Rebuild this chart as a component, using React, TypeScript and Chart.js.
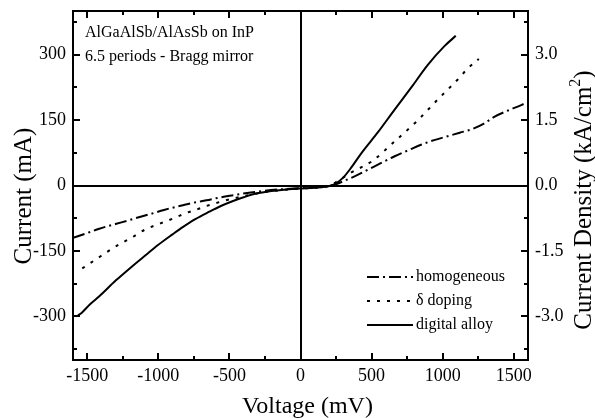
import React, { useEffect, useRef } from "react";
import { Chart, registerables } from "chart.js";

Chart.register(...registerables);

// ---------- data ----------
const homogeneousV = [-1599, -1500, -1415, -1330, -1253, -1160, -1063, -960, -852, -760, -662, -560, -450, -350, -250, -150, 0, 100, 200, 250, 310, 380, 521, 662, 760, 852, 940, 1035, 1120, 1204, 1290, 1366, 1460, 1556, 1590];
const homogeneousI = [-120, -109, -99, -91, -84, -75, -66, -56, -47, -40, -34, -27, -21, -16, -12, -9, -6, -4, -1, 3, 11, 21, 44, 67, 81, 94, 104, 113, 121, 129, 142, 158, 172, 185, 190];

const deltaV = [-1535, -1437, -1359, -1280, -1190, -1099, -1020, -944, -870, -803, -730, -662, -560, -450, -350, -250, -150, 0, 100, 200, 261, 357, 500, 662, 817, 965, 1106, 1176, 1254];
const deltaI = [-190, -169, -152, -136, -120, -102, -91, -82, -72, -63, -55, -47, -37, -28, -21, -15, -11, -7, -5, -1, 10, 30, 55, 101, 147, 197, 243, 268, 290];

const digitalV = [-1565, -1540, -1480, -1415, -1300, -1183, -1090, -1000, -900, -831, -740, -641, -560, -479, -400, -320, -250, -150, -7, 100, 204, 250, 300, 359, 430, 542, 662, 782, 894, 1014, 1092];
const digitalI = [-298, -292, -272, -254, -218, -185, -160, -136, -112, -96, -77, -60, -47, -36, -27, -19, -15, -11, -7, -5, -1, 5, 18, 42, 75, 121, 174, 226, 276, 320, 343];

const seriesLabels = ["homogeneous", "δ doping", "digital alloy"];
const seriesDashes = [[12, 4, 2, 4], [3, 7], []];

const xTickValues = [-1500, -1000, -500, 0, 500, 1000, 1500];
const xMinorValues = [-1250, -750, -250, 250, 750, 1250];
const yTickValues = [-300, -150, 0, 150, 300];
const yMinorValues = [-375, -225, -75, 75, 225, 375];
const densityTickValues = [-3, -1.5, 0, 1.5, 3];

const xTitle = "Voltage (mV)";
const yTitle = "Current (mA)";
const y2Title = "Current Density (kA/cm";
const y2TitleSup = "2";
const annotationLines = ["AlGaAlSb/AlAsSb on InP", "6.5 periods - Bragg mirror"];

const FONT = '"Liberation Serif", "Times New Roman", serif';

const pts = (xs: number[], ys: number[]) => xs.map((x, i) => ({ x, y: ys[i] }));

const decorPlugin = {
  id: "decor",
  beforeDatasetsDraw(chart: any) {
    const ctx = chart.ctx;
    const x = chart.scales.x;
    const y = chart.scales.y;
    const a = chart.chartArea;
    ctx.save();
    ctx.strokeStyle = "#000";
    ctx.lineWidth = 2;
    const y0 = Math.round(y.getPixelForValue(0));
    const x0 = Math.round(x.getPixelForValue(0));
    ctx.beginPath();
    ctx.moveTo(a.left, y0);
    ctx.lineTo(a.right, y0);
    ctx.moveTo(x0, a.top);
    ctx.lineTo(x0, a.bottom);
    ctx.stroke();
    ctx.restore();
  },
  afterDraw(chart: any) {
    const ctx = chart.ctx;
    const a = chart.chartArea;
    const xs = chart.scales.x;
    const ys = chart.scales.y;
    ctx.save();
    ctx.strokeStyle = "#000";
    ctx.fillStyle = "#000";
    ctx.lineWidth = 2;
    ctx.strokeRect(a.left, a.top, a.right - a.left, a.bottom - a.top);
    const major = 7;
    const minor = 4;
    ctx.beginPath();
    const xt = (v: number, len: number) => {
      const p = Math.round(xs.getPixelForValue(v));
      ctx.moveTo(p, a.bottom);
      ctx.lineTo(p, a.bottom - len);
      ctx.moveTo(p, a.top);
      ctx.lineTo(p, a.top + len);
    };
    const yt = (v: number, len: number) => {
      const p = Math.round(ys.getPixelForValue(v));
      ctx.moveTo(a.left, p);
      ctx.lineTo(a.left + len, p);
      ctx.moveTo(a.right, p);
      ctx.lineTo(a.right - len, p);
    };
    xTickValues.forEach((v) => xt(v, major));
    xMinorValues.forEach((v) => xt(v, minor));
    yTickValues.forEach((v) => yt(v, major));
    yMinorValues.forEach((v) => yt(v, minor));
    ctx.stroke();

    ctx.font = `24px ${FONT}`;
    ctx.textAlign = "center";
    ctx.textBaseline = "alphabetic";
    ctx.fillText(xTitle, (a.left + a.right) / 2 + 7, 413);

    ctx.save();
    ctx.translate(31, 196);
    ctx.rotate(-Math.PI / 2);
    ctx.font = `25px ${FONT}`;
    ctx.textAlign = "center";
    ctx.fillText(yTitle, 0, 0);
    ctx.restore();

    ctx.save();
    ctx.translate(591, 200);
    ctx.rotate(-Math.PI / 2);
    ctx.font = `25px ${FONT}`;
    const mainW = ctx.measureText(y2Title).width;
    ctx.font = `16px ${FONT}`;
    const supW = ctx.measureText(y2TitleSup).width;
    ctx.font = `25px ${FONT}`;
    const closeW = ctx.measureText(")").width;
    const total = mainW + supW + closeW;
    let sx = -total / 2;
    ctx.textAlign = "left";
    ctx.fillText(y2Title, sx, 0);
    sx += mainW;
    ctx.font = `16px ${FONT}`;
    ctx.fillText(y2TitleSup, sx, -11);
    sx += supW;
    ctx.font = `25px ${FONT}`;
    ctx.fillText(")", sx, 0);
    ctx.restore();

    ctx.font = `16px ${FONT}`;
    ctx.textAlign = "left";
    ctx.textBaseline = "alphabetic";
    ctx.fillText(annotationLines[0], 85, 37);
    ctx.fillText(annotationLines[1], 85, 61);

    const legendY = [277, 301, 325];
    chart.data.datasets.forEach((ds: any, i: number) => {
      const yy = legendY[i];
      ctx.beginPath();
      ctx.setLineDash(ds.borderDash || []);
      ctx.lineWidth = 2;
      ctx.moveTo(367, yy);
      ctx.lineTo(413, yy);
      ctx.stroke();
      ctx.setLineDash([]);
      ctx.font = `16px ${FONT}`;
      ctx.textBaseline = "middle";
      ctx.fillText(ds.label, 416, yy);
    });
    ctx.restore();
  },
};

const zeroPad = (s: any) => {
  s.paddingTop = 0;
  s.paddingBottom = 0;
  s.paddingLeft = 0;
  s.paddingRight = 0;
};

export default function App() {
  const ref = useRef<HTMLCanvasElement | null>(null);
  useEffect(() => {
    if (!ref.current) return;
    const chart = new Chart(ref.current, {
      type: "line",
      data: {
        datasets: [
          { label: seriesLabels[0], data: pts(homogeneousV, homogeneousI), borderDash: seriesDashes[0] },
          { label: seriesLabels[1], data: pts(deltaV, deltaI), borderDash: seriesDashes[1] },
          { label: seriesLabels[2], data: pts(digitalV, digitalI), borderDash: seriesDashes[2] },
        ].map((d) => ({
          ...d,
          borderColor: "#000",
          backgroundColor: "#000",
          borderWidth: 2,
          pointRadius: 0,
          fill: false,
          tension: 0.4,
          cubicInterpolationMode: "monotone" as const,
          yAxisID: "y",
        })),
      },
      options: {
        responsive: false,
        animation: false,
        devicePixelRatio: 1,
        layout: { padding: { top: 11, left: 0, right: 0, bottom: 0 } },
        plugins: { legend: { display: false }, tooltip: { enabled: false } },
        scales: {
          x: {
            type: "linear",
            position: "bottom",
            min: -1600,
            max: 1600,
            grid: { display: false, drawTicks: false },
            border: { display: false },
            afterBuildTicks: (s: any) => {
              s.ticks = xTickValues.map((v) => ({ value: v }));
            },
            afterFit: (s: any) => {
              s.height = 58;
              zeroPad(s);
            },
            ticks: {
              padding: 5,
              color: "#000",
              font: { family: FONT, size: 18 },
              maxRotation: 0,
              autoSkip: false,
              callback: (v: any) => String(v),
            },
          },
          y: {
            type: "linear",
            position: "left",
            min: -400,
            max: 400,
            grid: { display: false, drawTicks: false },
            border: { display: false },
            afterBuildTicks: (s: any) => {
              s.ticks = yTickValues.map((v) => ({ value: v }));
            },
            afterFit: (s: any) => {
              s.width = 73;
              zeroPad(s);
            },
            ticks: {
              padding: 7,
              color: "#000",
              font: { family: FONT, size: 18 },
              autoSkip: false,
              callback: (v: any) => String(v),
            },
          },
          y2: {
            type: "linear",
            position: "right",
            min: -4,
            max: 4,
            grid: { display: false, drawTicks: false },
            border: { display: false },
            afterBuildTicks: (s: any) => {
              s.ticks = densityTickValues.map((v) => ({ value: v }));
            },
            afterFit: (s: any) => {
              s.width = 67;
              zeroPad(s);
            },
            ticks: {
              padding: 7,
              color: "#000",
              font: { family: FONT, size: 18 },
              autoSkip: false,
              callback: (v: any) => Number(v).toFixed(1),
            },
          },
        },
      },
      plugins: [decorPlugin],
    });
    return () => chart.destroy();
  }, []);

  return (
    <div style={{ position: "fixed", left: 0, top: 0, width: 595, height: 418, background: "#fff" }}>
      <canvas ref={ref} width={595} height={418} style={{ display: "block" }} />
    </div>
  );
}
